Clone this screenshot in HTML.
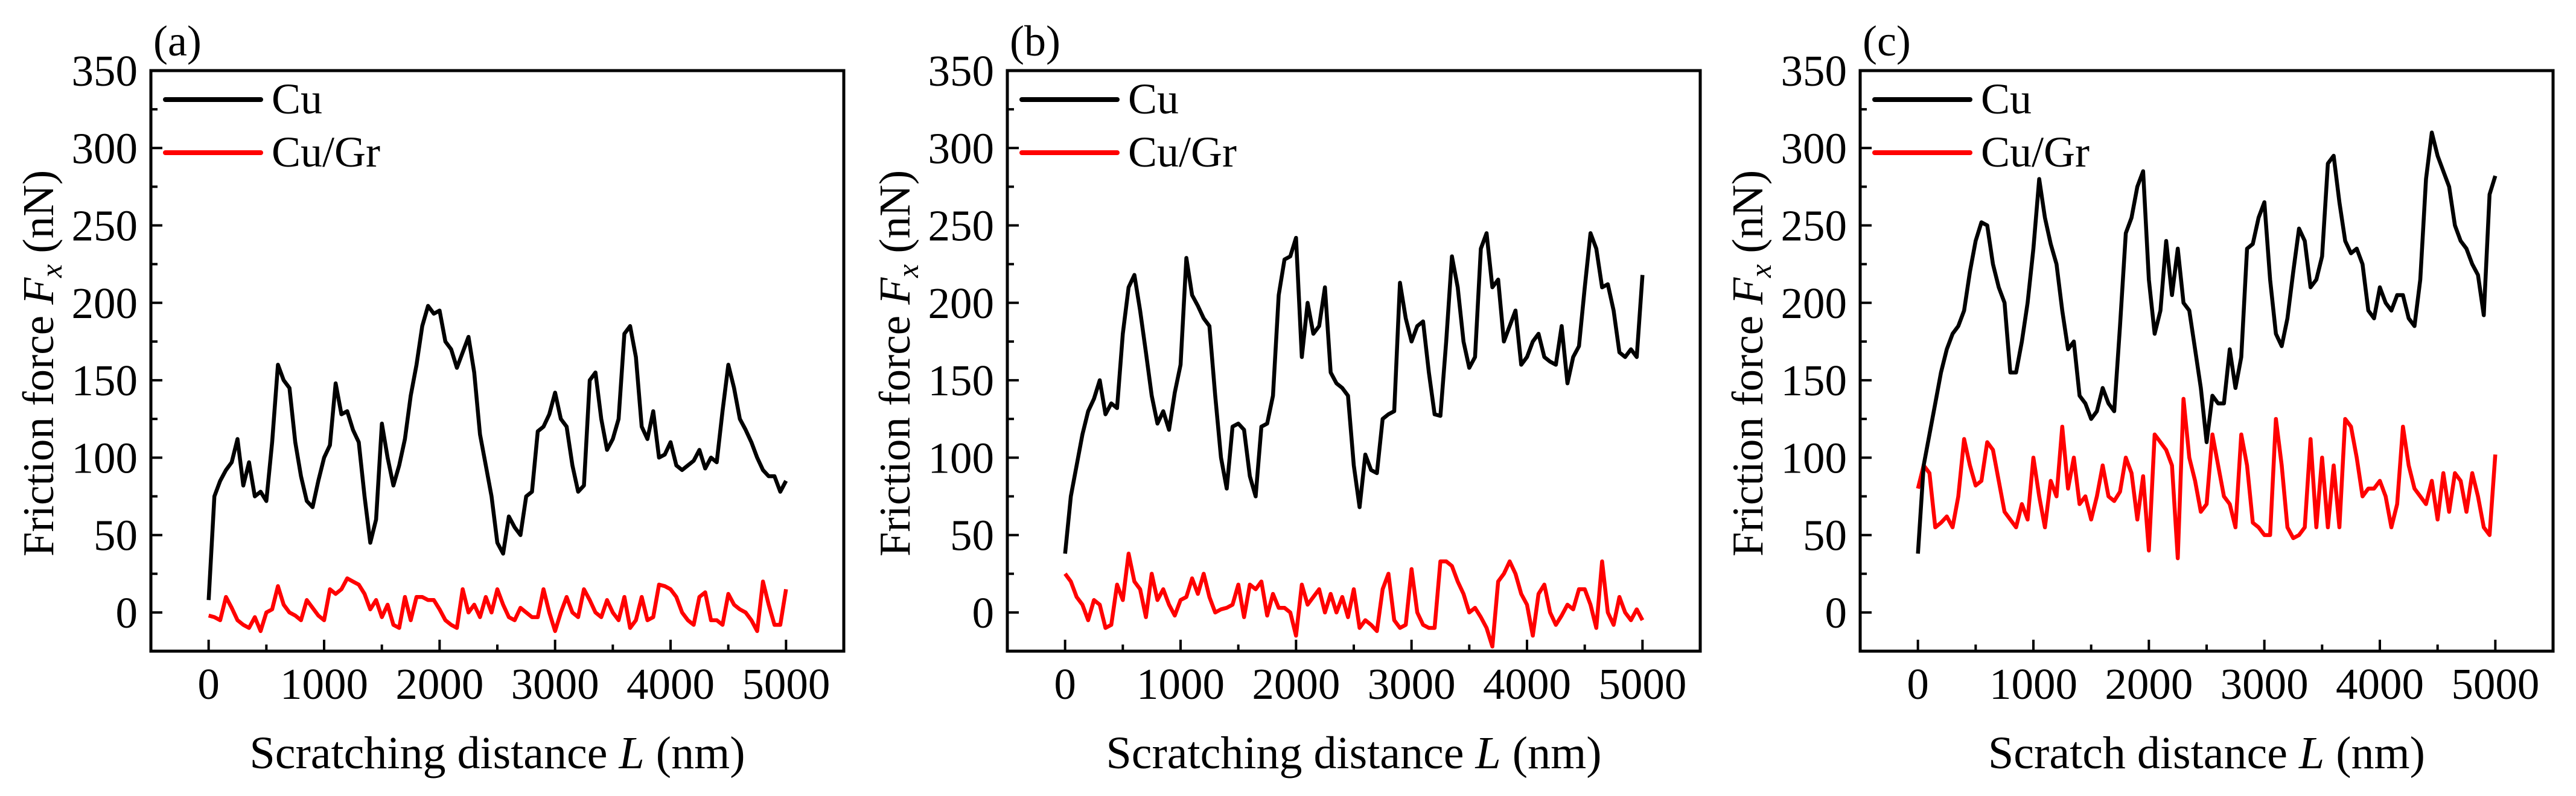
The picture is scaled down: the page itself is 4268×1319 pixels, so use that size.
<!DOCTYPE html>
<html><head><meta charset="utf-8"><style>
html,body{margin:0;padding:0;background:#fff;}
svg text{font-family:"Liberation Serif",serif;fill:#000;}
</style></head><body>
<svg id="fig" width="4268" height="1314" viewBox="0 0 4268 1314" xmlns="http://www.w3.org/2000/svg"></svg>
<script>
const xTicks = [0,1000,2000,3000,4000,5000];
const yTicks = [0,50,100,150,200,250,300,350];
const seriesNames = ["Cu","Cu/Gr"];
const panelLabels = ["(a)","(b)","(c)"];
const xTitles = ["Scratching distance ","Scratching distance ","Scratch distance "];
const cuA = [8,75,85,92,97,112,82,97,75,78,72,110,160,150,145,110,88,72,68,85,100,108,148,128,130,118,110,75,45,60,122,100,82,95,112,140,160,185,198,193,195,175,170,158,168,178,155,115,95,75,45,38,62,55,50,75,78,117,120,128,142,125,120,95,78,82,150,155,125,105,112,125,180,185,165,120,112,130,100,102,110,95,92,95,98,105,93,100,97,130,160,145,125,118,110,100,92,88,88,78,85];
const grA = [-2,-3,-5,10,3,-5,-8,-10,-3,-12,0,2,17,5,0,-2,-5,8,3,-2,-5,15,12,15,22,20,18,12,2,8,-3,5,-8,-10,10,-5,10,10,8,8,2,-5,-8,-10,15,0,5,-3,10,0,15,5,-3,-5,3,0,-3,-3,15,0,-12,0,10,0,-3,15,8,0,-3,8,0,-5,10,-10,-5,10,-5,-3,18,17,15,10,0,-5,-8,10,13,-5,-5,-8,12,5,2,0,-5,-12,20,5,-8,-8,15];
const cuB = [38,75,95,115,130,138,150,128,135,132,180,210,218,195,168,140,122,130,118,142,160,229,205,198,190,185,140,100,80,120,122,118,88,75,120,122,140,205,228,230,242,165,200,180,185,210,155,148,145,140,95,68,102,92,90,125,128,130,213,190,175,185,188,155,128,127,175,230,210,175,158,165,235,245,210,215,175,185,195,160,165,175,180,165,162,160,185,148,165,172,210,245,235,210,212,195,168,165,170,165,218];
const grB = [25,20,10,5,-5,8,5,-10,-8,18,8,38,20,15,-3,25,8,15,5,-2,8,10,22,12,25,10,0,2,3,5,18,-3,18,15,20,-2,12,3,3,0,-15,18,5,10,15,0,12,0,10,-3,15,-10,-5,-8,-12,15,25,-5,-10,-8,28,0,-8,-10,-10,33,33,30,20,12,0,3,-3,-10,-22,20,25,33,25,12,5,-15,12,18,0,-8,-2,5,2,15,15,5,-10,33,0,-8,10,0,-5,2,-5];
const cuC = [38,95,115,135,155,170,180,185,195,220,240,252,250,225,210,200,155,155,175,200,235,280,255,238,225,195,170,175,140,135,125,130,145,135,130,185,245,255,275,285,215,180,195,240,205,235,200,195,170,145,110,140,135,135,170,145,165,235,238,255,265,215,180,172,190,220,248,240,210,215,230,290,295,265,240,232,235,225,195,190,210,200,195,205,205,190,185,215,280,310,295,285,275,250,240,235,225,218,192,270,282];
const grC = [80,95,90,55,58,62,55,75,112,95,82,85,110,105,85,65,60,55,70,60,100,75,55,85,75,120,80,100,70,75,60,75,95,75,72,78,100,90,60,88,40,115,110,105,95,35,138,100,85,65,70,115,95,75,70,55,115,95,58,55,50,50,125,95,55,48,50,55,112,55,100,55,95,55,125,120,100,75,80,80,85,75,55,70,120,95,80,75,70,85,60,90,65,90,85,65,90,75,55,50,102];
const cuSeries = [cuA,cuB,cuC];
const grSeries = [grA,grB,grC];
const X_MIN=-500, X_MAX=5500, Y_MIN=-25, Y_MAX=350, X_END=5000;

const NS="http://www.w3.org/2000/svg";
const svg=document.getElementById('fig');
function mk(tag,attrs,parent){const e=document.createElementNS(NS,tag);for(const k in attrs)e.setAttribute(k,attrs[k]);parent.appendChild(e);return e;}

const lefts=[250,1669,3082];
const W=1148, T=117, B=1079;
for(let p=0;p<3;p++){
  const L=lefts[p], R=L+W;
  const g=mk('g',{},svg);
  
  
  const xs=v=>L+(v-X_MIN)/(X_MAX-X_MIN)*W;
  const ys=v=>B-(v-Y_MIN)/(Y_MAX-Y_MIN)*(B-T);
  const drawLine=(arr,color,name)=>{
    const n=arr.length;let d='';
    arr.forEach((v,i)=>{const xv=i*X_END/(n-1);d+=(i?'L':'M')+xs(xv).toFixed(1)+' '+ys(v).toFixed(1);});
    const pth=mk('path',{d:d,fill:'none',stroke:color,'stroke-width':6.5,'stroke-linejoin':'round'},g);
    
    
  };
  drawLine(grSeries[p],'#ff0000','cu-gr-line');
  drawLine(cuSeries[p],'#000000','cu-line');
  const fr=mk('rect',{x:L,y:T,width:W,height:B-T,fill:'none',stroke:'#000','stroke-width':5},g);
  
  
  for(let v=0;v<=X_MAX;v+=500){
    const major=xTicks.includes(v);
    mk('line',{x1:xs(v),x2:xs(v),y1:B,y2:B-(major?19:11),stroke:'#000','stroke-width':4},g);
  }
  xTicks.forEach(v=>{
    const t=mk('text',{x:xs(v),y:1158,'font-size':73,'text-anchor':'middle'},g);
    t.textContent=v;
    
    
  });
  for(let v=0;v<=Y_MAX;v+=25){
    const major=yTicks.includes(v);
    mk('line',{x1:L,x2:L+(major?19:11),y1:ys(v),y2:ys(v),stroke:'#000','stroke-width':4},g);
  }
  yTicks.forEach(v=>{
    const t=mk('text',{x:L-22,y:ys(v)+25,'font-size':73,'text-anchor':'end'},g);
    t.textContent=v;
    
    
  });
  const xt=mk('text',{x:(L+R)/2,y:1273,'font-size':76,'text-anchor':'middle'},g);
  
  
  xt.appendChild(document.createTextNode(xTitles[p]));
  const ti=mk('tspan',{'font-style':'italic'},xt);ti.textContent='L';
  xt.appendChild(document.createTextNode(' (nm)'));
  const yt=mk('text',{x:0,y:0,'font-size':73,'text-anchor':'middle',transform:`translate(${L-162},602) rotate(-90)`},g);
  
  
  yt.appendChild(document.createTextNode('Friction force '));
  const f=mk('tspan',{'font-style':'italic'},yt);f.textContent='F';
  const sx=mk('tspan',{'font-style':'italic','font-size':50,dy:14},yt);sx.textContent='x';
  const rest=mk('tspan',{dy:-14},yt);rest.textContent=' (nN)';
  const pl=mk('text',{x:L+4,y:92,'font-size':72},g);
  pl.textContent=panelLabels[p];
  
  
  const colors=['#000000','#ff0000'];
  seriesNames.forEach((nm,i)=>{
    const ly=165+i*88;
    const ll=mk('line',{x1:L+24,x2:L+182,y1:ly,y2:ly,stroke:colors[i],'stroke-width':8,'stroke-linecap':'round'},g);
    
    
    const lt=mk('text',{x:L+200,y:ly+23,'font-size':72},g);
    lt.textContent=nm;
    
    
  });
}
</script>
</body></html>
